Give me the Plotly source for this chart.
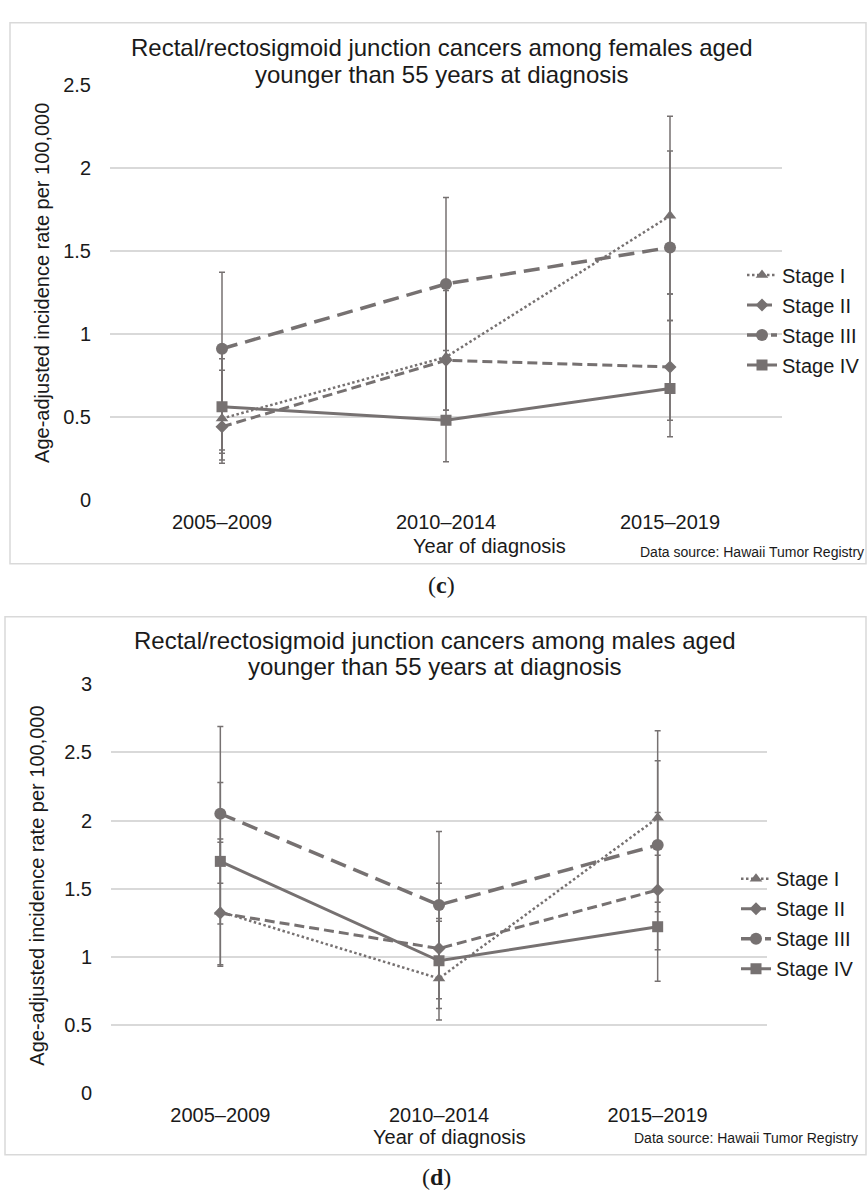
import plotly.graph_objects as go

# ---- data -------------------------------------------------------------
periods = ["2005–2009", "2010–2014", "2015–2019"]
stages = ["Stage I", "Stage II", "Stage III", "Stage IV"]

# (c) females aged < 55: age-adjusted rate and 95% CI bounds
fem_rate_I = [0.49, 0.86, 1.71]
fem_rate_II = [0.44, 0.84, 0.80]
fem_rate_III = [0.91, 1.30, 1.52]
fem_rate_IV = [0.56, 0.48, 0.67]
fem_low_I = [0.24, 0.54, 1.24]
fem_low_II = [0.22, 0.54, 0.48]
fem_low_III = [0.30, 0.90, 1.08]
fem_low_IV = [0.28, 0.23, 0.38]
fem_up_I = [0.85, 1.28, 2.31]
fem_up_II = [0.78, 1.26, 1.24]
fem_up_III = [1.37, 1.82, 2.10]
fem_up_IV = [0.90, 0.85, 1.08]

# (d) males aged < 55
mal_rate_I = [1.33, 0.84, 2.02]
mal_rate_II = [1.32, 1.06, 1.49]
mal_rate_III = [2.05, 1.38, 1.82]
mal_rate_IV = [1.70, 0.97, 1.22]
mal_low_I = [0.94, 0.535, 1.40]
mal_low_II = [0.93, 0.69, 1.05]
mal_low_III = [1.54, 0.97, 1.33]
mal_low_IV = [1.24, 0.62, 0.82]
mal_up_I = [1.865, 1.26, 2.66]
mal_up_II = [1.84, 1.54, 2.06]
mal_up_III = [2.69, 1.92, 2.44]
mal_up_IV = [2.28, 1.28, 1.745]

W, H = 867, 1200
GRAY = "#767171"
GRID = "#d9d9d9"
TXT = "#1a1a1a"
FONT = "Liberation Sans, Arial, sans-serif"


def px(x):
    return x / W


def py(y):
    return 1 - y / H


styles = [
    dict(dash="2.5px,2.5px", width=2.5, symbol="triangle-up", size=11),
    dict(dash="10px,5px", width=3, symbol="diamond", size=10),
    dict(dash="16px,8px", width=3.5, symbol="circle", size=12),
    dict(dash="solid", width=3, symbol="square", size=11),
]

panels = [
    dict(rates=[fem_rate_I, fem_rate_II, fem_rate_III, fem_rate_IV],
         lows=[fem_low_I, fem_low_II, fem_low_III, fem_low_IV],
         ups=[fem_up_I, fem_up_II, fem_up_III, fem_up_IV],
         xa="x", ya="y", legend="legend", tag="f"),
    dict(rates=[mal_rate_I, mal_rate_II, mal_rate_III, mal_rate_IV],
         lows=[mal_low_I, mal_low_II, mal_low_III, mal_low_IV],
         ups=[mal_up_I, mal_up_II, mal_up_III, mal_up_IV],
         xa="x2", ya="y2", legend="legend2", tag="m"),
]

fig = go.Figure()
xpos = list(range(len(periods)))

for p in panels:
    for name, st, r, lo, up in zip(stages, styles, p["rates"], p["lows"], p["ups"]):
        fig.add_trace(go.Scatter(
            x=xpos, y=r, name=name, mode="lines+markers",
            xaxis=p["xa"], yaxis=p["ya"], legend=p["legend"],
            legendgroup=p["tag"] + name,
            line=dict(color=GRAY, width=st["width"], dash=st["dash"]),
            marker=dict(color=GRAY, symbol=st["symbol"], size=st["size"],
                        line=dict(width=0)),
            error_y=dict(type="data", symmetric=False,
                         array=[u - v for u, v in zip(up, r)],
                         arrayminus=[v - l for v, l in zip(r, lo)],
                         color=GRAY, thickness=1.5, width=3),
        ))

tickfont = dict(family=FONT, size=20, color=TXT)
xcommon = dict(range=[-0.5, 2.5], tickvals=xpos, ticktext=periods,
               showgrid=False, zeroline=False, showline=False, ticks="",
               tickfont=tickfont, ticklabelstandoff=8, fixedrange=True)
ycommon = dict(showgrid=True, gridcolor=GRID, gridwidth=1.5, zeroline=False,
               showline=False, ticks="", tickfont=tickfont,
               ticklabelstandoff=18, fixedrange=True)

legfont = dict(family=FONT, size=20, color=TXT)
fig.update_layout(
    width=W, height=H,
    margin=dict(l=0, r=0, t=0, b=0),
    paper_bgcolor="white", plot_bgcolor="white",
    font=dict(family=FONT, color=TXT),
    xaxis=dict(domain=[px(110), px(782)], anchor="y", **xcommon),
    yaxis=dict(domain=[py(498), py(75)], anchor="x", range=[0, 2.5],
               dtick=0.5, **ycommon),
    xaxis2=dict(domain=[px(111), px(767)], anchor="y2", **xcommon),
    yaxis2=dict(domain=[py(1102), py(686)], anchor="x2", range=[0, 3],
                dtick=0.5, **ycommon),
    legend=dict(x=px(742), y=py(249), xanchor="left", yanchor="top",
                itemwidth=30, font=legfont, traceorder="grouped",
                bgcolor="rgba(0,0,0,0)", borderwidth=0, tracegroupgap=1),
    legend2=dict(x=px(736), y=py(864), xanchor="left", yanchor="top",
                 itemwidth=30, font=legfont, traceorder="grouped",
                 bgcolor="rgba(0,0,0,0)", borderwidth=0, tracegroupgap=1),
    showlegend=True,
)

# panel frames
fig.add_shape(type="rect", xref="paper", yref="paper",
              x0=px(10), x1=px(866), y0=py(563), y1=py(12),
              line=dict(color=GRID, width=1.5), layer="below")
fig.add_shape(type="rect", xref="paper", yref="paper",
              x0=px(5), x1=px(866), y0=py(1165), y1=py(617),
              line=dict(color=GRID, width=1.5), layer="below")


def note(text, x, y, size, anchor="center", angle=0, family=FONT):
    fig.add_annotation(text=text, x=px(x), y=py(y), xref="paper", yref="paper",
                       xanchor=anchor, yanchor="middle", showarrow=False,
                       textangle=angle, font=dict(family=family, size=size, color=TXT))


# panel (c)
note("Rectal/rectosigmoid junction cancers among females aged", 442, 37, 24)
note("younger than 55 years at diagnosis", 442, 65, 24)
note("Age-adjusted incidence rate per 100,000", 42, 277, 20, angle=-90)
note("Year of diagnosis", 489, 545, 20)
note("Data source: Hawaii Tumor Registry", 866, 551, 14, anchor="right")
note("(<b>c</b>)", 441, 585, 24, family="Liberation Serif, Times New Roman, serif")

# panel (d)
note("Rectal/rectosigmoid junction cancers among males aged", 435, 641, 24)
note("younger than 55 years at diagnosis", 435, 668, 24)
note("Age-adjusted incidence rate per 100,000", 37, 891, 20, angle=-90)
note("Year of diagnosis", 450, 1147, 20)
note("Data source: Hawaii Tumor Registry", 860, 1148, 14, anchor="right")
note("(<b>d</b>)", 436, 1188, 24, family="Liberation Serif, Times New Roman, serif")

fig.write_html("out.html")
